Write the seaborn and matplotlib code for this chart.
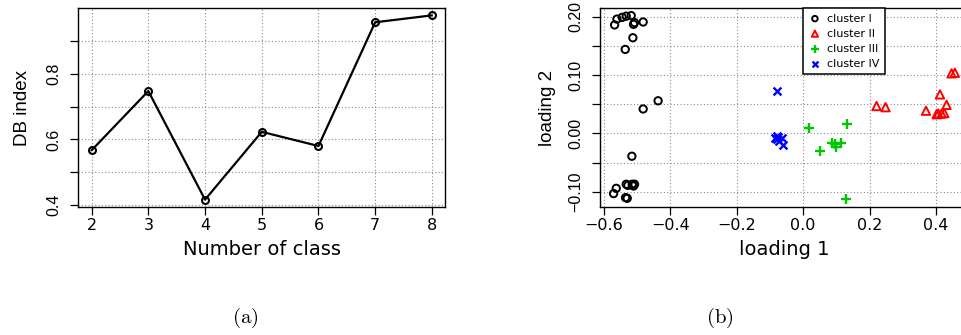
import numpy as np
import pandas as pd
import matplotlib
matplotlib.use("Agg")
import matplotlib.pyplot as plt
import seaborn as sns

# ---- data ----
n_class = [2, 3, 4, 5, 6, 7, 8]
db_index = [0.567, 0.747, 0.417, 0.623, 0.580, 0.956, 0.977]

c1_x = [-0.568, -0.561, -0.545, -0.533, -0.518, -0.511, -0.508, -0.482, -0.513, -0.536,
        -0.437, -0.482, -0.516, -0.571, -0.563, -0.533, -0.528, -0.515, -0.511, -0.508,
        -0.535, -0.530]
c1_y = [0.186, 0.196, 0.199, 0.201, 0.202, 0.187, 0.190, 0.191, 0.164, 0.144,
        0.056, 0.042, -0.039, -0.103, -0.094, -0.087, -0.089, -0.087, -0.090, -0.087,
        -0.110, -0.111]
c2_x = [0.221, 0.248, 0.370, 0.412, 0.432, 0.407, 0.417, 0.425, 0.447, 0.457, 0.402]
c2_y = [0.047, 0.045, 0.039, 0.067, 0.049, 0.034, 0.034, 0.035, 0.103, 0.104, 0.033]
c3_x = [0.018, 0.133, 0.050, 0.087, 0.100, 0.113, 0.095, 0.128]
c3_y = [0.010, 0.016, -0.030, -0.017, -0.023, -0.017, -0.018, -0.113]
c4_x = [-0.080, -0.085, -0.075, -0.065, -0.080, -0.072, -0.060, -0.078]
c4_y = [0.073, -0.007, -0.006, -0.007, -0.010, -0.013, -0.020, -0.005]

clusters = ["cluster I", "cluster II", "cluster III", "cluster IV"]

sns.set_theme(style="white")
plt.rcParams["font.family"] = ["Liberation Sans", "DejaVu Sans"]
plt.rcParams["mathtext.fontset"] = "cm"
plt.rcParams["text.color"] = "black"
plt.rcParams["axes.labelcolor"] = "black"
plt.rcParams["xtick.color"] = "black"
plt.rcParams["ytick.color"] = "black"

# the original is a bit wider than tall, so horizontal text uses the wider DejaVu face
WIDE = ["DejaVu Sans"]
NARROW = ["Liberation Sans", "DejaVu Sans"]

W, H = 962, 335
fig = plt.figure(figsize=(W / 100, H / 100), dpi=100)

def px_box(x0, x1, y0, y1):
    return [x0 / W, 1 - y1 / H, (x1 - x0) / W, (y1 - y0) / H]

ax1 = fig.add_axes(px_box(78, 445.5, 8, 207))
ax2 = fig.add_axes(px_box(600, 968.5, 8, 207))

def style_axes(ax):
    for s in ax.spines.values():
        s.set_color("black")
        s.set_linewidth(1.0)
    ax.tick_params(axis="both", direction="out", length=5.8, width=0.9,
                   color="black", labelcolor="black",
                   left=True, bottom=True, top=False, right=False)
    ax.tick_params(axis="x", labelsize=11.5, pad=2)
    ax.tick_params(axis="y", labelsize=11.5, pad=6)
    ax.grid(True, linestyle=(0, (1, 2)), color="#8c8c8c", linewidth=0.8)
    ax.set_axisbelow(True)
    for lab in ax.get_xticklabels():
        lab.set_fontfamily(WIDE)
    for lab in ax.get_yticklabels():
        lab.set_rotation(90)
        lab.set_va("center")
        lab.set_fontfamily(NARROW)

# ---- panel (a) ----
df_a = pd.DataFrame({"n": n_class, "db": db_index})
sns.lineplot(data=df_a, x="n", y="db", ax=ax1, color="black", linewidth=1.6,
             marker="o", markersize=5, markerfacecolor="none",
             markeredgecolor="black", markeredgewidth=1.5)
ax1.set_xlim(1.76, 8.24)
ax1.set_ylim(0.3946, 0.9994)
ax1.set_xticks(n_class)
ax1.set_yticks([0.4, 0.5, 0.6, 0.7, 0.8, 0.9])
ax1.set_yticklabels(["0.4", "", "0.6", "", "0.8", ""])
ax1.set_xlabel("Number of class", fontsize=14, labelpad=5, fontfamily=WIDE)
ax1.set_ylabel("DB index", fontsize=13.5, labelpad=11, fontfamily=NARROW)
style_axes(ax1)

# ---- panel (b) ----
specs = [
    (c1_x, c1_y, "o", "black", "none", 28, 1.4),
    (c2_x, c2_y, "^", "red", "none", 36, 1.4),
    (c3_x, c3_y, "+", "#00c800", None, 60, 1.7),
    (c4_x, c4_y, "x", "blue", None, 32, 1.7),
]
for (xs, ys, mk, col, fc, s, lw), name in zip(specs, clusters):
    if fc == "none":
        sns.scatterplot(x=xs, y=ys, ax=ax2, marker=mk, s=s, facecolors="none",
                        edgecolor=col, linewidth=lw, label=name)
    else:
        sns.scatterplot(x=xs, y=ys, ax=ax2, marker=mk, s=s, color=col,
                        linewidth=lw, label=name)
ax2.set_xlim(-0.612, 0.498)
ax2.set_ylim(-0.126, 0.215)
ax2.set_xticks([-0.6, -0.4, -0.2, 0.0, 0.2, 0.4])
ax2.set_xticklabels(["\u22120.6", "\u22120.4", "\u22120.2", "0.0", "0.2", "0.4"])
ax2.set_yticks([-0.10, -0.05, 0.0, 0.05, 0.10, 0.15, 0.20])
ax2.set_yticklabels(["\u22120.10", "", "0.00", "", "0.10", "", "0.20"])
ax2.set_xlabel("loading 1", fontsize=14, labelpad=5, fontfamily=WIDE)
ax2.set_ylabel("loading 2", fontsize=13.5, labelpad=9, fontfamily=NARROW)
style_axes(ax2)

leg = ax2.legend(loc="upper left", bbox_to_anchor=(0.55, 1.0), borderaxespad=0,
                 prop={"family": WIDE, "size": 8}, frameon=True, fancybox=False,
                 framealpha=1, handletextpad=0.5, borderpad=0.5, labelspacing=0.45,
                 handlelength=1.2, markerscale=0.75)
leg.get_frame().set_edgecolor("black")
leg.get_frame().set_linewidth(1.1)

# ---- captions ----
fig.text(245 / W, 1 - 318 / H, r"$\mathrm{(a)}$", ha="center", va="center", fontsize=15)
fig.text(720 / W, 1 - 318 / H, r"$\mathrm{(b)}$", ha="center", va="center", fontsize=15)

fig.savefig("out.png", dpi=100)
